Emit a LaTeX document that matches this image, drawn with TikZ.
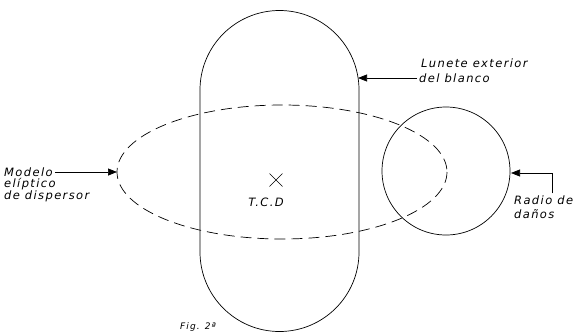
\documentclass[tikz,border=0pt]{standalone}
\usepackage{fontspec}
\setmainfont{Liberation Sans}
\newfontfamily\hand[LetterSpace=12]{DejaVu Sans}
\usetikzlibrary{arrows.meta}
\begin{document}
\begin{tikzpicture}[x=1pt,y=-1pt,
  lbl/.style={font=\hand\itshape\fontsize{11.5}{11}\selectfont, inner sep=0pt, anchor=west},
  shp/.style={line width=0.7pt},
  dsh/.style={line width=0.7pt, dash pattern=on 11pt off 6pt},
  arr/.style={line width=0.7pt, -{Triangle[length=9pt,width=7pt]}}]
\useasboundingbox (0,0) rectangle (578,333);
% target outline (stadium)
\draw[shp] (200,90) arc[start angle=180, end angle=360, radius=79.5]
  -- (359,252) arc[start angle=0, end angle=180, radius=79.5] -- cycle;
% dispersion ellipse
\draw[dsh] (282,172) ellipse[x radius=165, y radius=67];
% damage radius circle
\draw[shp] (446,171) circle[radius=64];
% centre mark
\coordinate (tcd) at (276,180);
\draw[line width=0.6pt] ([shift={(-6.5,-6.5)}]tcd) -- ([shift={(6.5,6.5)}]tcd)
  ([shift={(-6.5,6.5)}]tcd) -- ([shift={(6.5,-6.5)}]tcd);
\node[font=\hand\itshape\fontsize{11.5}{11}\selectfont, inner sep=0pt] (tcdl) at (266,202) {T.C.D};
% labels
\node[lbl] (m1) at (4,172) {Modelo};
\node[lbl] (m2) at (4,184) {elíptico};
\node[lbl] (m3) at (4,196) {de dispersor};
\coordinate (mtip) at (117,172);
\draw[arr] (m1.east) ++(2,0) -- (mtip);
\node[lbl] (l1) at (421,63) {Lunete exterior};
\node[lbl] (l2) at (419,78) {del blanco};
\coordinate (ltip) at (358,78);
\draw[arr] (l2.west) ++(-2,0) -- (ltip);
\node[lbl] (r1) at (514,200) {Radio de};
\node[lbl] (r2) at (514,214) {daños};
\coordinate (rbend) at (552,173);
\coordinate (rtip) at (511,173);
\draw[arr] (r1.north -| rbend) ++(0,-2) -- (rbend) -- (rtip);
\node[lbl, font=\hand\itshape\fontsize{9}{9}\selectfont, anchor=south west] (fig) at (180,332) {Fig. 2ª};
\end{tikzpicture}
\end{document}
